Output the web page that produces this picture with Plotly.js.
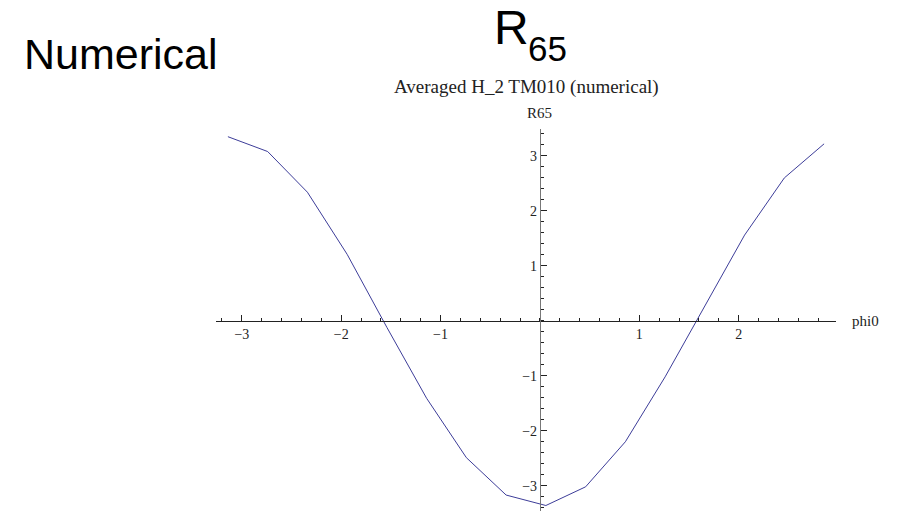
<!DOCTYPE html>
<html>
<head>
<meta charset="utf-8">
<script src="https://cdn.plot.ly/plotly-3.0.1.min.js"></script>
<style>
  html, body { margin: 0; padding: 0; background: #fff; }
  #chart { width: 924px; height: 512px; }
</style>
</head>
<body>
<div id="chart"></div>
<script>
// Averaged H_2 TM010 response R65 against the phase offset phi0
const phi0 = [-3.14, -2.74, -2.34, -1.94, -1.54, -1.14, -0.74, -0.34,
              0.06, 0.46, 0.86, 1.26, 1.66, 2.06, 2.46, 2.86];
const r65 = [3.35, 3.08, 2.34, 1.21, -0.12, -1.41, -2.49, -3.17,
             -3.36, -3.02, -2.20, -1.02, 0.27, 1.56, 2.60, 3.22];

const xTickVals = [-3, -2, -1, 1, 2];
const xTickText = ['\u22123', '\u22122', '\u22121', '1', '2'];
const yTickVals = [-3, -2, -1, 1, 2, 3];
const yTickText = ['\u22123', '\u22122', '\u22121', '1', '2', '3'];

const xRange = [-3.26, 2.98];
const yRange = [-3.46, 3.49];

// axes cross at the origin, so each one sits at the other's zero
const xAxisPos = (0 - yRange[0]) / (yRange[1] - yRange[0]);
const yAxisPos = (0 - xRange[0]) / (xRange[1] - xRange[0]);

const serif = 'Liberation Serif, Times New Roman, serif';
const sans = 'Liberation Sans, Helvetica, Arial, sans-serif';

const trace = {
  x: phi0,
  y: r65,
  type: 'scatter',
  mode: 'lines',
  line: { color: '#3d3d99', width: 1 },
  hoverinfo: 'skip'
};

// helper for headline texts placed by pixel offset from the plot's top-left corner
function headline(text, dx, dy, size, family) {
  return {
    text: text, xref: 'paper', yref: 'paper', x: 0, y: 1,
    xanchor: 'left', yanchor: 'middle',
    xshift: dx, yshift: dy, showarrow: false,
    font: { family: family, size: size, color: '#000' }
  };
}

const layout = {
  width: 924,
  height: 512,
  margin: { l: 216, r: 88, t: 129, b: 1 },
  paper_bgcolor: '#ffffff',
  plot_bgcolor: '#ffffff',
  showlegend: false,
  xaxis: {
    range: xRange,
    anchor: 'free',
    position: xAxisPos,
    showgrid: false,
    zeroline: false,
    showline: true,
    linecolor: '#222',
    linewidth: 1,
    ticks: 'inside',
    ticklen: 6,
    tickwidth: 1,
    tickcolor: '#222',
    tickmode: 'array',
    tickvals: xTickVals,
    ticktext: xTickText,
    tickfont: { family: serif, size: 14, color: '#222' },
    minor: { tickmode: 'linear', tick0: 0, dtick: 0.2, ticks: 'inside', ticklen: 3, tickcolor: '#222', showgrid: false }
  },
  yaxis: {
    range: yRange,
    anchor: 'free',
    position: yAxisPos,
    showgrid: false,
    zeroline: false,
    showline: true,
    linecolor: '#777',
    linewidth: 1.5,
    ticks: 'inside',
    ticklen: 6,
    tickwidth: 1,
    tickcolor: '#222',
    tickmode: 'array',
    tickvals: yTickVals,
    ticktext: yTickText,
    tickfont: { family: serif, size: 14, color: '#222' },
    minor: { tickmode: 'linear', tick0: 0, dtick: 0.2, ticks: 'inside', ticklen: 3, tickcolor: '#222', showgrid: false }
  },
  annotations: [
    headline('Numerical', -194, 75, 43, sans),
    headline('R', 276, 102, 48, sans),
    headline('65', 310, 81, 35, sans),
    { text: 'Averaged H_2 TM010 (numerical)', xref: 'x', yref: 'paper', x: -0.14, y: 1, xanchor: 'center', yanchor: 'bottom',
      yshift: 29, showarrow: false, font: { family: serif, size: 19, color: '#222' } },
    { text: 'R65', xref: 'x', yref: 'paper', x: 0, y: 1, xanchor: 'center', yanchor: 'bottom',
      yshift: 6, showarrow: false, font: { family: serif, size: 15, color: '#222' } },
    { text: 'phi0', xref: 'paper', yref: 'y', x: 1, y: 0, xanchor: 'left', yanchor: 'middle',
      xshift: 14, showarrow: false, font: { family: serif, size: 15, color: '#222' } }
  ]
};

Plotly.newPlot('chart', [trace], layout, { staticPlot: true, displayModeBar: false });
</script>
</body>
</html>
